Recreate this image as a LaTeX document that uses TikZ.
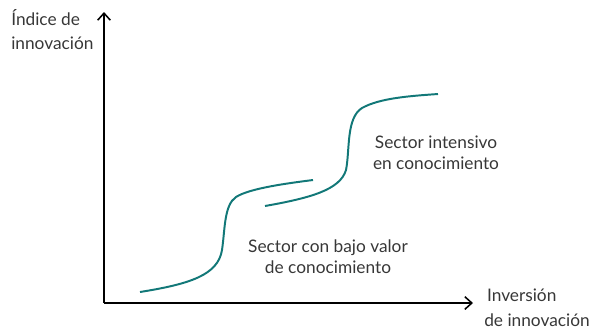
\documentclass[tikz,border=0pt]{standalone}
\usepackage{fontspec}
\setmainfont{Lato}
\usetikzlibrary{arrows.meta,positioning}

\definecolor{curva}{RGB}{18,120,120}
\definecolor{testo}{RGB}{55,55,55}

\begin{document}
\begin{tikzpicture}[
    x=0.025cm, y=-0.025cm,
    % Stili
    axis/.style={thick, -{Straight Barb[length=5pt,width=9pt,line width=1.1pt]}},
    sector/.style={draw=curva, line width=1.4pt},
    label/.style={font=\fontsize{12.3}{14.8}\selectfont, text=testo, align=center, inner sep=0pt},
    axislabel/.style={font=\fontsize{12.3}{17.2}\selectfont, text=testo, align=left, inner sep=0pt}
]
\useasboundingbox (0,0) rectangle (596,330);

% Assi
\coordinate (origin) at (104,303);
\coordinate (ytop) at (104,12);
\coordinate (xend) at (473,303);
\draw[axis] (origin) -- (ytop);
\draw[axis] (origin) -- (xend);

% Etichette assi
\node[axislabel, anchor=north west] (ylabel) at (11,9) {Índice de\\innovación};
\node[axislabel, anchor=north west] (xlabel) at (484,289) {\hspace{2pt}Inversión\\de innovación};

% Curva 1: settore con basso valore
\draw[sector] (140,292) .. controls (190,284) and (218,275) .. (222,250)
    .. controls (225,230) and (224,205) .. (236,197)
    .. controls (250,188) and (290,183) .. (313,180);

% Curva 2: settore intensivo
\draw[sector] (265,206) .. controls (310,198) and (340,190) .. (346,170)
    .. controls (350,150) and (346,118) .. (362,108)
    .. controls (380,98) and (410,96) .. (438,94);

% Etichette settori
\node[label] (intensivo) at (436,153) {Sector intensivo\\en conocimiento};
\node[label] (bajo) at (328,257) {Sector con bajo valor\\de conocimiento};

\end{tikzpicture}
\end{document}
